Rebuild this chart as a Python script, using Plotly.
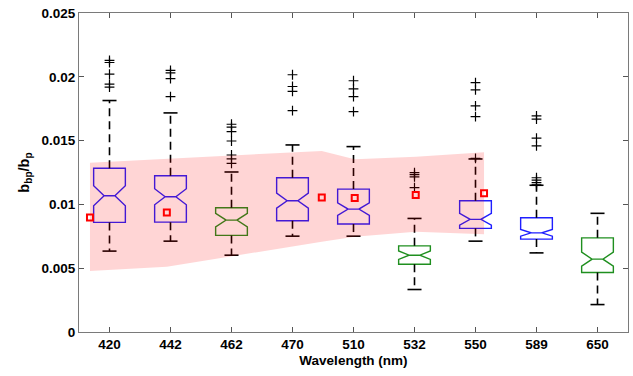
import plotly.graph_objects as go

# ---- data ----
wavelengths = ["420", "442", "462", "470", "510", "532", "550", "589", "650"]
box_colors = ["blue", "blue", "green", "blue", "blue", "green", "blue", "blue", "green"]
q1 = [0.00859, 0.00861, 0.00757, 0.00872, 0.00846, 0.00531, 0.00812, 0.00728, 0.00466]
median = [0.01068, 0.01060, 0.00877, 0.01029, 0.00963, 0.00602, 0.00883, 0.00777, 0.00571]
q3 = [0.01283, 0.01225, 0.00974, 0.01209, 0.01120, 0.00675, 0.01029, 0.00895, 0.00738]
notch_half = [0.00079, 0.00063, 0.00053, 0.00059, 0.00049, 0.00033, 0.00046, 0.00026, 0.00055]
whisker_low = [0.00634, 0.00712, 0.00602, 0.00751, 0.00751, 0.00333, 0.00712, 0.00620, 0.00215]
whisker_high = [0.01814, 0.01717, 0.01254, 0.01466, 0.01453, 0.00890, 0.01356, 0.01150, 0.00930]
outliers = [
    [0.02128, 0.02112, 0.02021, 0.01943, 0.01919],
    [0.02050, 0.02030, 0.01985, 0.01845],
    [0.01628, 0.01605, 0.01570, 0.01497, 0.01387, 0.01356, 0.01322],
    [0.02016, 0.01924, 0.01885, 0.01735],
    [0.01969, 0.01906, 0.01845, 0.01727],
    [0.01249, 0.01233, 0.01215, 0.01131],
    [0.01955, 0.01898, 0.01772, 0.01688, 0.01360],
    [0.01694, 0.01668, 0.01519, 0.01458, 0.01209, 0.01191, 0.01170, 0.01154],
    [],
]
# satellite-band reference points (positions on the category axis)
ref_pos = [0.68, 1.94, 4.48, 5.02, 6.02, 7.14]
ref_value = [0.00898, 0.00937, 0.01055, 0.01050, 0.01073, 0.01087]
band_upper = [0.01327, 0.01356, 0.01419, 0.01354, 0.01374, 0.01409]
band_lower = [0.00479, 0.00512, 0.00707, 0.00746, 0.00785, 0.00767]

y_ticks = [0, 0.005, 0.01, 0.015, 0.02, 0.025]
y_tick_text = ["0", "0.005", "0.01", "0.015", "0.02", "0.025"]

COLORS = {"blue": "#1f1fff", "green": "#1f8f1f"}
FONT = "Liberation Sans, Arial, sans-serif"

pos = list(range(1, len(wavelengths) + 1))
fig = go.Figure()

for cname in ["blue", "green"]:
    idx = [i for i, c in enumerate(box_colors) if c == cname]
    fig.add_trace(go.Box(
        x=[pos[i] for i in idx],
        q1=[q1[i] for i in idx],
        median=[median[i] for i in idx],
        q3=[q3[i] for i in idx],
        lowerfence=[q1[i] for i in idx],
        upperfence=[q3[i] for i in idx],
        notchspan=[notch_half[i] for i in idx],
        notched=True,
        notchwidth=0.33,
        whiskerwidth=0,
        width=0.52,
        boxpoints=False,
        line=dict(color=COLORS[cname], width=1.4),
        fillcolor="rgba(0,0,0,0)",
        showlegend=False,
        hoverinfo="skip",
    ))

# dashed whiskers
wx, wy = [], []
for i, p in enumerate(pos):
    wx += [p, p, None, p, p, None]
    wy += [q3[i], whisker_high[i], None, q1[i], whisker_low[i], None]
fig.add_trace(go.Scatter(x=wx, y=wy, mode="lines",
                         line=dict(color="black", width=1.6, dash="8px,5px"),
                         showlegend=False, hoverinfo="skip"))
# caps
cx, cy = [], []
cap = 0.115
for i, p in enumerate(pos):
    cx += [p - cap, p + cap, None, p - cap, p + cap, None]
    cy += [whisker_high[i], whisker_high[i], None, whisker_low[i], whisker_low[i], None]
fig.add_trace(go.Scatter(x=cx, y=cy, mode="lines",
                         line=dict(color="black", width=1.6),
                         showlegend=False, hoverinfo="skip"))
# outliers
ox, oy = [], []
for i, p in enumerate(pos):
    for v in outliers[i]:
        ox.append(p)
        oy.append(v)
fig.add_trace(go.Scatter(x=ox, y=oy, mode="markers",
                         marker=dict(symbol="cross-thin", size=7,
                                     line=dict(color="black", width=1.2)),
                         showlegend=False, hoverinfo="skip"))
# shaded band (drawn above the boxes, semi-transparent)
fig.add_trace(go.Scatter(x=ref_pos + ref_pos[::-1],
                         y=band_upper + band_lower[::-1],
                         fill="toself", fillcolor="rgba(255,0,0,0.165)",
                         mode="lines", line=dict(width=0),
                         showlegend=False, hoverinfo="skip"))
# red reference markers
fig.add_trace(go.Scatter(x=ref_pos, y=ref_value, mode="markers",
                         marker=dict(symbol="square-open", size=6,
                                     color="#ff0000",
                                     line=dict(color="#ff0000", width=2)),
                         showlegend=False, hoverinfo="skip"))

axis_common = dict(showgrid=False, zeroline=False, showline=True,
                   linecolor="#7a7a7a", linewidth=1, mirror="ticks",
                   ticks="inside", ticklen=5, tickcolor="#555555",
                   automargin=False,
                   tickfont=dict(family=FONT, size=13.5, color="black",
                                 weight="bold"))

fig.update_xaxes(range=[0.5, 9.5], tickvals=pos, ticktext=wavelengths,
                 title=dict(text="<b>Wavelength (nm)</b>", standoff=4,
                            font=dict(family=FONT, size=13.5, color="black")),
                 **axis_common)
fig.update_yaxes(range=[0, 0.025], tickvals=y_ticks, ticktext=y_tick_text,
                 title=dict(text="<b>b<sub>bp</sub>/b<sub>p</sub></b>", standoff=8,
                            font=dict(family=FONT, size=14.5, color="black")),
                 **axis_common)

fig.update_layout(width=633, height=376,
                  margin=dict(l=79, r=5, t=13, b=44, autoexpand=False),
                  paper_bgcolor="white", plot_bgcolor="white",
                  showlegend=False)

fig.write_html("out.html", config={"displayModeBar": False},
               post_script="document.body.style.margin='0';document.body.style.overflow='hidden';")
